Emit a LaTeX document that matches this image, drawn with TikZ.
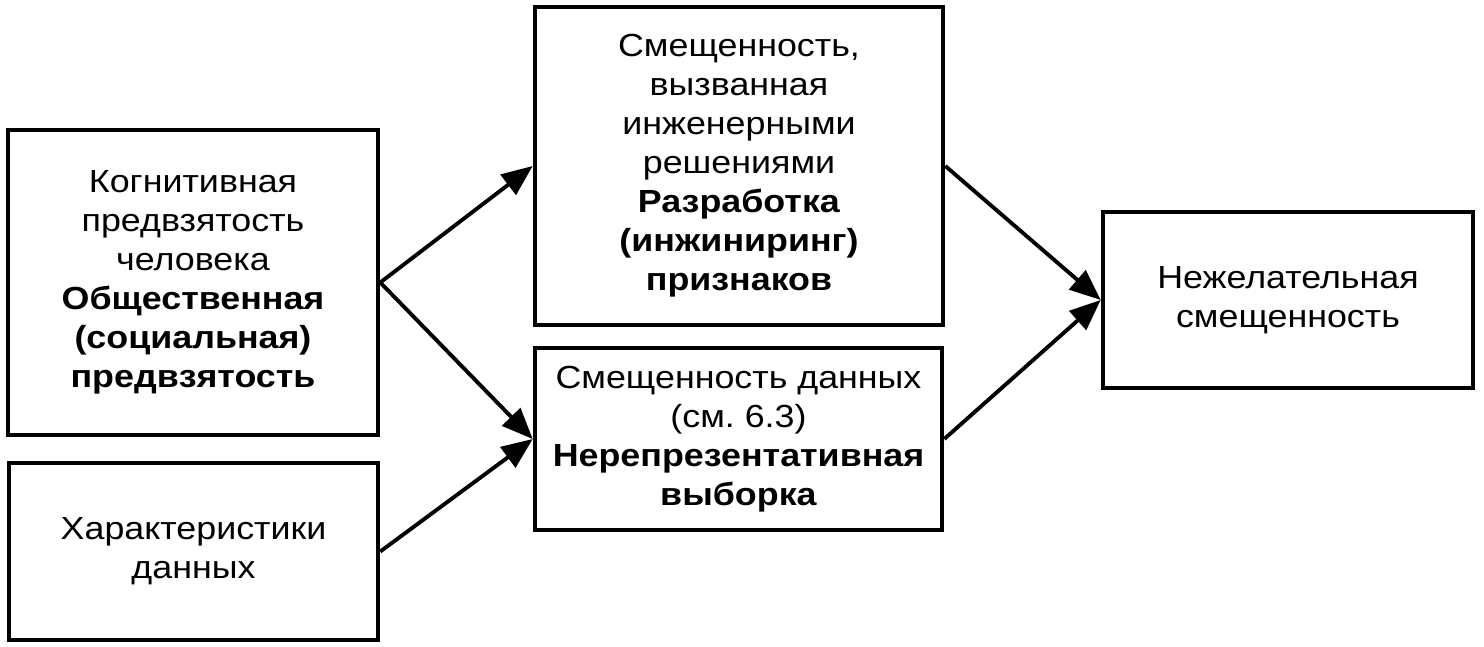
\documentclass[tikz,border=0pt]{standalone}
\usepackage{fontspec}
\setmainfont{Liberation Sans}[FakeStretch=1.12]
\usepackage{tikz}
\usetikzlibrary{arrows.meta}
\frenchspacing

\begin{document}
\begin{tikzpicture}[
  box/.style={draw, line width=2.6pt, inner sep=0pt, align=center,
    font=\fontsize{18.2}{22.2}\selectfont},
  arr/.style={-{Triangle[length=0.62cm,width=0.5cm]}, line width=2.2pt}]
\useasboundingbox (0,0) rectangle (29.68,12.94);

\node[box, minimum width=7.4cm, minimum height=6.1cm] (cogn) at (3.86,7.29)
  {Когнитивная\\предвзятость\\человека\\\textbf{Общественная}\\\textbf{(социальная)}\\\textbf{предвзятость}};
\node[box, minimum width=7.38cm, minimum height=3.54cm] (chars) at (3.87,1.91)
  {Характеристики\\данных};

\node[box, minimum width=8.16cm, minimum height=6.36cm] (eng) at (14.78,9.62)
  {Смещенность,\\вызванная\\инженерными\\решениями\\\textbf{Разработка}\\\textbf{(инжиниринг)}\\\textbf{признаков}};
\node[box, minimum width=8.14cm, minimum height=3.64cm] (data) at (14.77,4.16)
  {Смещенность данных\\(см. 6.3)\\\textbf{Нерепрезентативная}\\\textbf{выборка}};

\node[box, minimum width=7.4cm, minimum height=3.52cm] (unw) at (25.76,6.94)
  {Нежелательная\\смещенность};

\draw [arr] (cogn.east) -- (eng.west);
\draw [arr] (cogn.east) -- (data.west);
\draw [arr] (chars.east) -- (data.west);
\draw [arr] (eng.east) -- (unw.west);
\draw [arr] (data.east) -- (unw.west);
\end{tikzpicture}
\end{document}
